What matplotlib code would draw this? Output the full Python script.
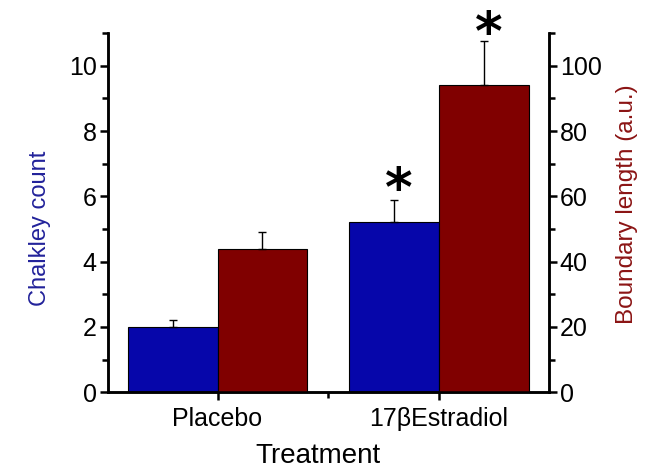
import matplotlib
matplotlib.use("Agg")
import matplotlib.pyplot as plt
import numpy as np
from matplotlib.ticker import MultipleLocator, FixedLocator

# data
treatments = ["Placebo", "17\u03b2Estradiol"]
chalkley = [2.0, 5.2]
chalkley_err = [0.22, 0.7]
boundary = [44, 94]
boundary_err = [5, 13.5]
significant = [False, True]

plt.rcParams['font.family'] = ['Liberation Sans', 'DejaVu Sans']

blue = "#0606aa"
red = "#800000"

fig = plt.figure(figsize=(6.54, 4.68), dpi=100)
ax = fig.add_axes([0.165, 0.162, 0.674, 0.767])
ax2 = ax.twinx()

x = np.arange(len(treatments))
w = 0.405

ax.bar(x - w/2, chalkley, w, color=blue, edgecolor="black", linewidth=0.8, zorder=2)
ax.errorbar(x - w/2, chalkley, yerr=[np.zeros(len(x)), chalkley_err], fmt="none",
            ecolor="black", elinewidth=1, capsize=3, capthick=1, zorder=3)
ax2.bar(x + w/2, boundary, w, color=red, edgecolor="black", linewidth=0.8, zorder=2)
ax2.errorbar(x + w/2, boundary, yerr=[np.zeros(len(x)), boundary_err], fmt="none",
             ecolor="black", elinewidth=1, capsize=3, capthick=1, zorder=3)

# significance stars
for i in range(len(x)):
    if significant[i]:
        ax.text(x[i] - w/2 + 0.02, chalkley[i] + chalkley_err[i] + 0.25, "*", fontsize=38,
                fontweight="bold", family="DejaVu Sans", ha="center", va="center")
        ax2.text(x[i] + w/2 + 0.02, boundary[i] + boundary_err[i] + 2, "*", fontsize=38,
                 fontweight="bold", family="DejaVu Sans", ha="center", va="center",
                 clip_on=False)

ax.set_xlim(-0.495, 1.495)
ax.set_ylim(0, 11)
ax2.set_ylim(0, 110)

ax.set_xticks(x)
ax.set_xticklabels(treatments)
ax.xaxis.set_minor_locator(FixedLocator([-0.5, 0.5, 1.5]))
ax.yaxis.set_major_locator(MultipleLocator(2))
ax.yaxis.set_minor_locator(MultipleLocator(1))
ax2.yaxis.set_major_locator(MultipleLocator(20))
ax2.yaxis.set_minor_locator(MultipleLocator(10))

for a in (ax, ax2):
    a.spines["top"].set_visible(False)
    for s in ("left", "right", "bottom"):
        a.spines[s].set_linewidth(1.8)
    a.tick_params(which="major", direction="out", length=6, width=1.8, labelsize=18, pad=2)
    a.tick_params(which="minor", direction="out", length=4, width=1.8)
ax.tick_params(axis="x", which="major", pad=5)

ax.set_xlabel("Treatment", fontsize=20, va="center")
ax.xaxis.set_label_coords(0.476, -0.178)
ax.set_ylabel("Chalkley count", fontsize=17, color="#22229a", va="center",
              rotation_mode="default")
ax.yaxis.set_label_coords(-0.155, 0.457)
ax2.set_ylabel("Boundary length (a.u.)", fontsize=17.5, color="#8b1414", va="center",
               rotation_mode="default")
ax2.yaxis.set_label_coords(1.178, 0.525)

fig.savefig("out.png", dpi=100)
